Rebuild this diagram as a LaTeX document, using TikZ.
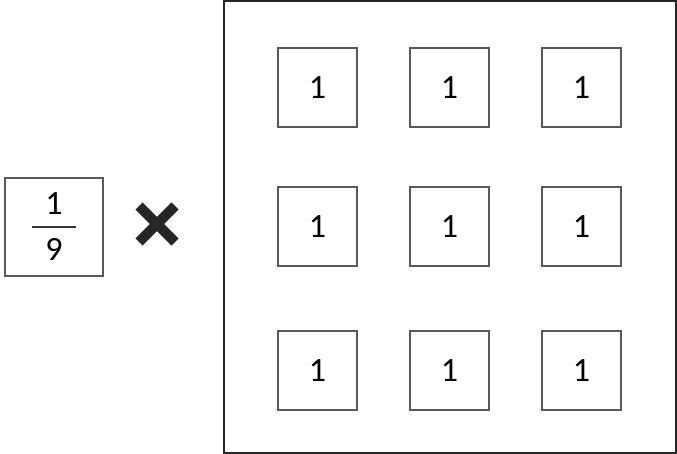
\documentclass[tikz,border=0pt]{standalone}
\usepackage{fontspec}
\setmainfont{Carlito}
\begin{document}
\begin{tikzpicture}[x=1pt,y=-1pt,
  cell/.style={draw=black!65,line width=1.2pt,minimum width=79pt,minimum height=79pt,inner sep=0pt,font=\fontsize{34}{36}\selectfont},
  frame/.style={draw=black!85,line width=1.2pt}]
\useasboundingbox (0,0) rectangle (677,454);
\node[frame,minimum width=452pt,minimum height=452pt,inner sep=0pt] (big) at (450,227) {};
\foreach \r/\y in {1/87.5,2/226.5,3/370.5}{
  \foreach \c/\x in {1/317.5,2/449.5,3/581.5}{
    \node[cell] (c\r\c) at (\x,\y) {1};
  }
}
\node[draw=black!65,line width=1.2pt,minimum width=98pt,minimum height=98pt,inner sep=0pt] (frac) at (54,227) {};
\node[font=\fontsize{34}{36}\selectfont,inner sep=0pt] (num) at (54,204) {1};
\node[font=\fontsize{34}{36}\selectfont,inner sep=0pt] (den) at (54,249) {9};
\coordinate (l1) at (32,227);
\coordinate (l2) at (76,227);
\draw[line width=1.3pt,black!80] (l1) -- (l2);
\coordinate (xa) at (139,206);
\coordinate (xb) at (175,242);
\coordinate (xc) at (175,206);
\coordinate (xd) at (139,242);
\draw[line width=10pt,black!85] (xa) -- (xb);
\draw[line width=10pt,black!85] (xc) -- (xd);
\end{tikzpicture}
\end{document}
